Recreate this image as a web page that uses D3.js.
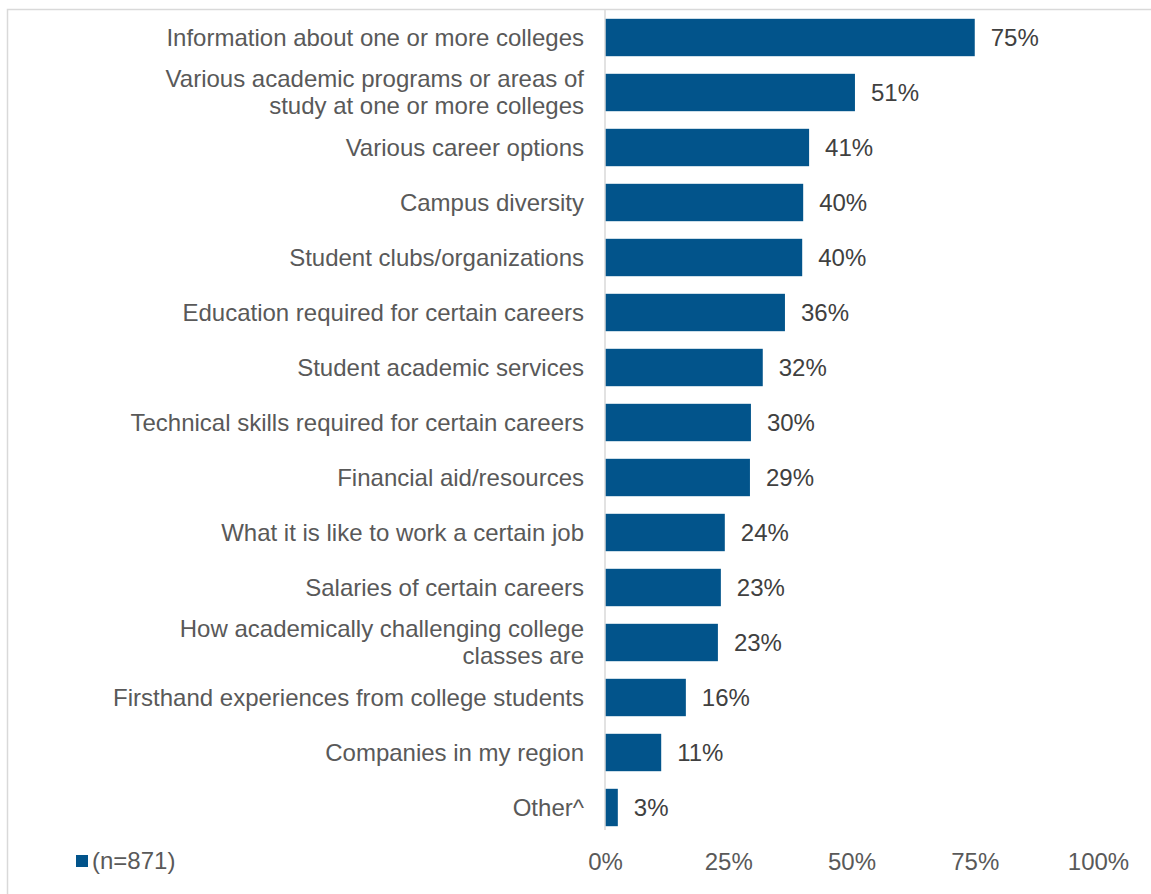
<!DOCTYPE html>
<html>
<head>
<meta charset="utf-8">
<script src="https://cdn.jsdelivr.net/npm/d3@7"></script>
<style>
  html, body { margin: 0; padding: 0; background: #fff; }
  svg { display: block; font-family: "Liberation Sans", Arial, sans-serif; }
</style>
</head>
<body>
<svg id="chart" width="1151" height="894"></svg>
<script>
const categories = [
  ["Information about one or more colleges"],
  ["Various academic programs or areas of", "study at one or more colleges"],
  ["Various career options"],
  ["Campus diversity"],
  ["Student clubs/organizations"],
  ["Education required for certain careers"],
  ["Student academic services"],
  ["Technical skills required for certain careers"],
  ["Financial aid/resources"],
  ["What it is like to work a certain job"],
  ["Salaries of certain careers"],
  ["How academically challenging college", "classes are"],
  ["Firsthand experiences from college students"],
  ["Companies in my region"],
  ["Other^"]
];
const values = [75.0, 50.7, 41.4, 40.2, 40.0, 36.5, 32.0, 29.6, 29.4, 24.3, 23.5, 22.9, 16.4, 11.4, 2.6];
const valueLabels = ["75%", "51%", "41%", "40%", "40%", "36%", "32%", "30%", "29%", "24%", "23%", "23%", "16%", "11%", "3%"];
const tickValues = [0, 25, 50, 75, 100];
const tickLabels = ["0%", "25%", "50%", "75%", "100%"];
const legendLabel = "(n=871)";

const svg = d3.select("#chart");
const barColor = "#02548b";
const textColor = "#595959";
const fontSize = 24;

// frame
svg.append("rect")
  .attr("x", 7.5).attr("y", 9.5)
  .attr("width", 1170).attr("height", 900)
  .attr("fill", "none").attr("stroke", "#d9d9d9").attr("stroke-width", 1.5);

const x = d3.scaleLinear().domain([0, 100]).range([605, 1098]);
const idx = d3.range(categories.length);
const y = d3.scaleBand().domain(idx).range([10, 835]).paddingInner(0.32).paddingOuter(0.16);

// bars
svg.append("g").selectAll("rect").data(idx).join("rect")
  .attr("x", x(0))
  .attr("y", i => y(i))
  .attr("width", i => x(values[i]) - x(0))
  .attr("height", y.bandwidth())
  .attr("fill", barColor);

// axis line
svg.append("line")
  .attr("x1", x(0)).attr("x2", x(0))
  .attr("y1", 10).attr("y2", 830)
  .attr("stroke", "#d9d9d9").attr("stroke-width", 1.5);

// category labels
const lineH = 27;
const catG = svg.append("g");
idx.forEach(i => {
  const lines = categories[i];
  const cy = y(i) + y.bandwidth() / 2;
  const t = catG.append("text")
    .attr("text-anchor", "end")
    .attr("font-size", fontSize)
    .attr("fill", textColor);
  lines.forEach((ln, k) => {
    t.append("tspan")
      .attr("x", x(0) - 21)
      .attr("y", cy + (k - (lines.length - 1) / 2) * lineH)
      .attr("dy", "0.35em")
      .text(ln);
  });
});

// value labels
svg.append("g").selectAll("text").data(idx).join("text")
  .attr("x", i => x(values[i]) + 16)
  .attr("y", i => y(i) + y.bandwidth() / 2)
  .attr("dy", "0.35em")
  .attr("font-size", fontSize)
  .attr("fill", "#404040")
  .text(i => valueLabels[i]);

// x tick labels
const axis = d3.axisBottom(x).tickValues(tickValues).tickSize(0).tickPadding(0)
  .tickFormat((d, i) => tickLabels[i]);
const ax = svg.append("g").attr("transform", "translate(0,853)").call(axis);
ax.select(".domain").remove();
ax.selectAll("text")
  .attr("font-size", fontSize)
  .attr("font-family", "Liberation Sans, Arial, sans-serif")
  .attr("fill", textColor);

// legend
svg.append("rect").attr("x", 76).attr("y", 855).attr("width", 12).attr("height", 12).attr("fill", barColor);
svg.append("text").attr("x", 92).attr("y", 861).attr("dy", "0.35em")
  .attr("font-size", fontSize).attr("fill", textColor).text(legendLabel);
</script>
</body>
</html>
